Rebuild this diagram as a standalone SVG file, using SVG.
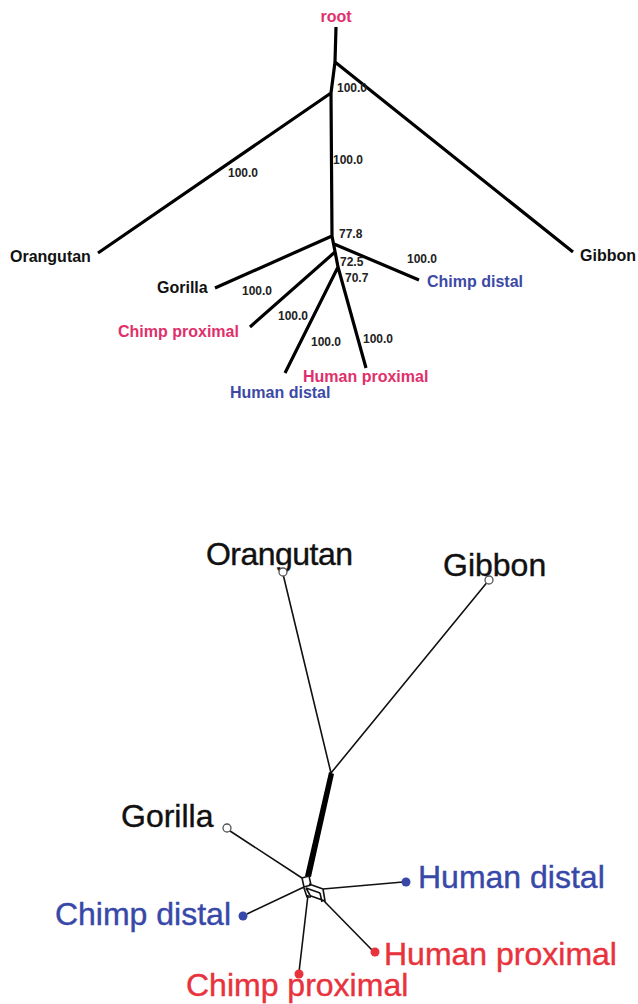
<svg xmlns="http://www.w3.org/2000/svg" width="638" height="1004" viewBox="0 0 638 1004">
<style>
.t{font-family:"Liberation Sans",Arial,sans-serif;font-weight:bold;font-size:16px}
.n{font-family:"Liberation Sans",Arial,sans-serif;font-weight:bold;font-size:12px;fill:#222}
.b{font-family:"Liberation Sans",Arial,sans-serif;font-size:32px;stroke-width:0.4}
.k{fill:#111}.p{fill:#e0306c}.u{fill:#3c4aa6}.r{fill:#e8323c}.bl{fill:#3848a8}
.b.k{stroke:#111}.b.r{stroke:#e8323c}.b.bl{stroke:#3848a8}
.e{stroke:#000;stroke-width:3.2;fill:none;stroke-linecap:butt}
.f{stroke:#111;stroke-width:1.6;fill:none}
.oc{fill:#fff;stroke:#555;stroke-width:1.3}
</style>
<rect width="638" height="1004" fill="#fff"/>
<g id="connectors">
<path class="e" d="M336,27 L335,62 M335,62 L573,252 M335,62 L331,93 M331,93 L98,253 M331,93 L332,236 M332,236 L215,288 M332,236 L338,267 M334,244 L419,280 M335,252 L250,327 M338,267 L285,373 M338,267 L366,368"/>
<path class="f" d="M283,574 L331,773 M489,580 L331,773"/>
<path d="M329,772 L334,774 L311,877 L305,876 Z" fill="#000"/>
<path class="f" d="M227,829 L302,878 M302,878 L309,876 L311,885 L304,887 Z M304,887 L247,914 M309,884 L323,889 M306,888 L320,893 M323,889 L325,901 L311,896 M320,893 L322,902 M323,889 L403,882 M324,901 L372,950 M306,888 L311,897 M311,897 L307,897 L304,888 M308,895 L299,972"/>
</g>
<g id="root"><text class="t p" x="336" y="22" text-anchor="middle">root</text></g>
<g id="labels-top">
<text class="n" x="337" y="92">100.0</text>
<text class="n" x="333" y="164">100.0</text>
<text class="n" x="228" y="177">100.0</text>
<text class="n" x="339" y="238">77.8</text>
<text class="n" x="340" y="266">72.5</text>
<text class="n" x="345" y="282">70.7</text>
<text class="n" x="407" y="263">100.0</text>
<text class="n" x="242" y="295">100.0</text>
<text class="n" x="278" y="320">100.0</text>
<text class="n" x="311" y="346">100.0</text>
<text class="n" x="363" y="343">100.0</text>
</g>
<g id="t-orangutan"><text class="t k" x="10" y="262">Orangutan</text></g>
<g id="t-gibbon"><text class="t k" x="580" y="261">Gibbon</text></g>
<g id="t-gorilla"><text class="t k" x="157" y="293">Gorilla</text></g>
<g id="t-chimp-distal"><text class="t u" x="427" y="287">Chimp distal</text></g>
<g id="t-chimp-proximal"><text class="t p" x="118" y="337">Chimp proximal</text></g>
<g id="t-human-proximal"><text class="t p" x="303" y="382">Human proximal</text></g>
<g id="t-human-distal"><text class="t u" x="230" y="398">Human distal</text></g>
<g id="b-orangutan"><text class="b k" x="206" y="565" textLength="147">Orangutan</text><circle class="oc" cx="283" cy="572" r="4"/></g>
<g id="b-gibbon"><text class="b k" x="443" y="576">Gibbon</text><circle class="oc" cx="489" cy="580" r="4"/></g>
<g id="b-gorilla"><text class="b k" x="121" y="827">Gorilla</text><circle class="oc" cx="227" cy="828" r="4"/></g>
<g id="b-human-distal"><text class="b bl" x="418" y="888">Human distal</text><circle class="bl" cx="406" cy="882" r="4.5"/></g>
<g id="b-chimp-distal"><text class="b bl" x="231" y="925" text-anchor="end">Chimp distal</text><circle class="bl" cx="243" cy="916" r="4.5"/></g>
<g id="b-human-proximal"><text class="b r" x="384" y="965">Human proximal</text><circle class="r" cx="375" cy="952" r="4.5"/></g>
<g id="b-chimp-proximal"><text class="b r" x="186" y="996">Chimp proximal</text><circle class="r" cx="299" cy="974" r="4.5"/></g>
</svg>
